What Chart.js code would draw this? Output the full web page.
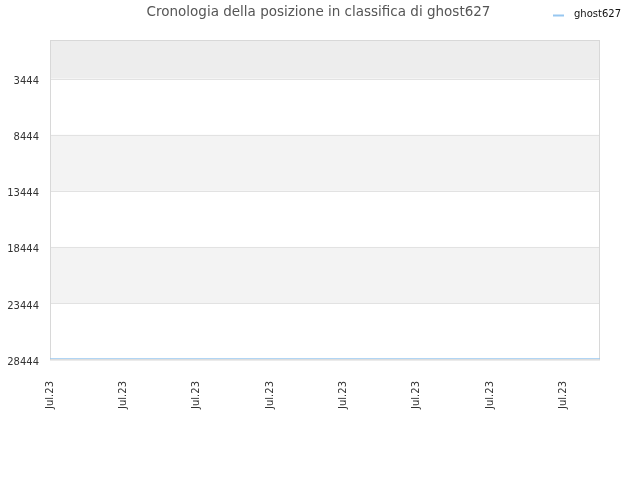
<!DOCTYPE html>
<html>
<head>
<meta charset="utf-8">
<script src="https://cdn.jsdelivr.net/npm/chart.js@4/dist/chart.umd.min.js"></script>
<style>
html,body{margin:0;padding:0;background:#fff;}
#wrap{width:640px;height:480px;position:relative;}
</style>
</head>
<body>
<div id="wrap"><canvas id="c" width="640" height="480"></canvas></div>
<script>
const titleText = "Cronologia della posizione in classifica di ghost627";
const seriesName = "ghost627";
const categories = ["Jul.23","Jul.23","Jul.23","Jul.23","Jul.23","Jul.23","Jul.23","Jul.23",
                    "Jul.23","Jul.23","Jul.23","Jul.23","Jul.23","Jul.23","Jul.23","Jul.23"];
const rankValues = [28444,28444,28444,28444,28444,28444,28444,28444,
                    28444,28444,28444,28444,28444,28444,28444,28444];
const yTickValues = [3444, 8444, 13444, 18444, 23444, 28444];
const yMin = 0;
const yMax = 28444;

const lineColor = "rgba(151,199,240,1)";

const bandsPlugin = {
  id: 'bands',
  beforeDatasetsDraw(chart) {
    const {ctx, chartArea, scales} = chart;
    const y = scales.y;
    const edges = [yMin].concat(yTickValues);
    ctx.save();
    for (let i = 0; i < edges.length - 1; i++) {
      const y1 = y.getPixelForValue(edges[i]);
      const y2 = y.getPixelForValue(edges[i+1]);
      let col = null;
      if (i === 0) col = '#ededed';
      else if (i % 2 === 0) col = '#f3f3f3';
      if (col) {
        ctx.fillStyle = col;
        ctx.fillRect(chartArea.left, Math.min(y1,y2), chartArea.right - chartArea.left, Math.abs(y2-y1));
      }
    }
    ctx.strokeStyle = '#e2e2e2';
    ctx.lineWidth = 1;
    yTickValues.forEach(v => {
      const p = Math.round(y.getPixelForValue(v)) + 0.5;
      ctx.beginPath(); ctx.moveTo(chartArea.left, p); ctx.lineTo(chartArea.right, p); ctx.stroke();
    });
    ctx.strokeStyle = '#d8d8d8';
    ctx.strokeRect(chartArea.left + 0.5, chartArea.top + 0.5, chartArea.right - chartArea.left - 1, chartArea.bottom - chartArea.top + 0.5);
    ctx.restore();
  },
  afterDraw(chart) {
    const {ctx} = chart;
    ctx.save();
    ctx.font = '13.5px "DejaVu Sans"';
    ctx.fillStyle = '#555';
    ctx.textAlign = 'center';
    ctx.textBaseline = 'middle';
    ctx.fillText(titleText, 318.5, 12);
    ctx.strokeStyle = lineColor;
    ctx.lineWidth = 2;
    ctx.beginPath(); ctx.moveTo(553, 15.5); ctx.lineTo(564, 15.5); ctx.stroke();
    ctx.font = '10px "DejaVu Sans"';
    ctx.fillStyle = '#111';
    ctx.textAlign = 'left';
    ctx.fillText(seriesName, 574, 14);
    ctx.restore();
  }
};

new Chart(document.getElementById('c'), {
  type: 'line',
  data: {
    labels: categories,
    datasets: [{
      label: seriesName,
      data: rankValues,
      borderColor: lineColor,
      backgroundColor: lineColor,
      borderWidth: 1.5,
      pointRadius: 0,
      tension: 0
    }]
  },
  options: {
    responsive: false,
    animation: false,
    devicePixelRatio: 1,
    layout: { padding: { top: 40, right: 40, left: 0, bottom: 0 } },
    plugins: { legend: { display: false }, title: { display: false }, tooltip: { enabled: false } },
    scales: {
      x: {
        offset: false,
        grid: { display: false, drawTicks: false },
        border: { display: false },
        afterFit(s) { s.height = 121; },
        ticks: {
          autoSkip: false,
          maxRotation: 90,
          minRotation: 90,
          padding: 22,
          color: '#333',
          font: { family: 'DejaVu Sans', size: 10 },
          callback(v, i) { return i % 2 === 0 ? categories[i] : ''; }
        }
      },
      y: {
        reverse: true,
        min: yMin,
        max: yMax,
        grid: { display: false, drawTicks: false },
        border: { display: false },
        afterFit(s) { s.width = 50; },
        afterBuildTicks(s) { s.ticks = yTickValues.map(v => ({ value: v })); },
        ticks: {
          padding: 11,
          labelOffset: 3,
          color: '#333',
          font: { family: 'DejaVu Sans', size: 10 },
          callback(v) { return String(v); }
        }
      }
    }
  },
  plugins: [bandsPlugin]
});
</script>
</body>
</html>
